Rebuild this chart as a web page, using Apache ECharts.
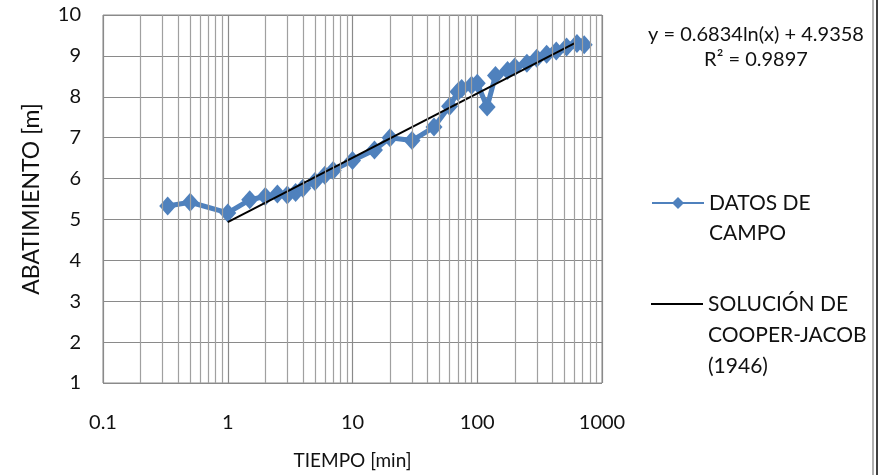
<!DOCTYPE html>
<html>
<head>
<meta charset="utf-8">
<script src="https://cdn.jsdelivr.net/npm/echarts@6/dist/echarts.min.js"></script>
<style>
  html, body { margin: 0; padding: 0; background: #fff; }
  #chart { width: 882px; height: 475px; }
</style>
</head>
<body>
<div id="chart"></div>
<script>
// Field drawdown measurements (time in minutes, drawdown in metres)
const tiempo = [0.33, 0.5, 1, 1.5, 2, 2.5, 3, 3.5, 4, 5, 6, 7, 10, 15, 20, 30, 45, 60, 70, 75, 90, 100, 120, 140, 175, 200, 250, 300, 360, 430, 520, 630, 720];
const abatimiento = [5.33, 5.42, 5.16, 5.48, 5.56, 5.62, 5.6, 5.66, 5.76, 5.93, 6.08, 6.2, 6.44, 6.7, 7.0, 6.93, 7.26, 7.77, 8.12, 8.2, 8.28, 8.33, 7.75, 8.52, 8.64, 8.73, 8.82, 8.94, 9.04, 9.12, 9.22, 9.3, 9.27];

// Cooper-Jacob straight line, y = 0.6834 ln(x) + 4.9358, at its two ends
const cjTiempo = [1, 600];
const cjAbatimiento = [4.9358, 9.3075];

const ecuacion = 'y = 0.6834ln(x) + 4.9358';
const r2 = 'R\u00B2 = 0.9897';

const nombreDatos = 'DATOS DE\nCAMPO';
const nombreCJ = 'SOLUCI\u00D3N DE\nCOOPER-JACOB\n(1946)';

// minor log grid lines 2..9 in each decade
const decadas = [0.1, 1, 10, 100];
const lineasMenores = [];
decadas.forEach(d => { for (let m = 2; m <= 9; m++) lineasMenores.push({ xAxis: +(d * m).toPrecision(3) }); });

const FONT = 'Lato';
const gridColor = '#a0a0a0';
const textColor = '#111';

const chart = echarts.init(document.getElementById('chart'), null, { renderer: 'canvas' });

chart.setOption({
  animation: false,
  backgroundColor: '#fff',
  textStyle: { fontFamily: FONT },
  grid: {
    left: 103, right: 280, top: 15, bottom: 87,
    show: true, borderColor: '#8c8c8c', borderWidth: 1
  },
  xAxis: {
    type: 'log', logBase: 10, min: 0.1, max: 1000,
    name: 'TIEMPO [min]', nameLocation: 'middle', nameGap: 68,
    nameTextStyle: { fontFamily: FONT, fontSize: 19, color: textColor },
    axisLine: { show: false }, axisTick: { show: false },
    axisLabel: { fontFamily: FONT, fontSize: 20, color: textColor, margin: 30,
      formatter: v => String(+v.toPrecision(3)) },
    splitLine: { show: true, lineStyle: { color: '#8a8a8a', width: 1.2 } }
  },
  yAxis: {
    type: 'value', min: 1, max: 10, interval: 1,
    name: 'ABATIMIENTO [m]', nameLocation: 'middle', nameGap: 60,
    nameTextStyle: { fontFamily: FONT, fontSize: 23, color: textColor },
    axisLine: { show: false }, axisTick: { show: false },
    axisLabel: { fontFamily: FONT, fontSize: 20, color: textColor, margin: 22 },
    splitLine: { show: true, lineStyle: { color: '#8a8a8a', width: 1.2 } }
  },
  legend: [
    {
      data: [nombreDatos], left: 651, top: 158, padding: 0,
      itemWidth: 52, itemHeight: 15, itemGap: 0,
      formatter: n => '\n' + n,
      textStyle: { fontFamily: FONT, fontSize: 21, color: textColor, lineHeight: 30 }
    },
    {
      data: [{ name: nombreCJ, icon: 'rect' }], left: 651, top: 226.5, padding: 0,
      itemWidth: 52, itemHeight: 2, itemGap: 0,
      formatter: n => '\n\n' + n,
      textStyle: { fontFamily: FONT, fontSize: 21, color: textColor, lineHeight: 31 }
    }
  ],
  series: [
    {
      name: 'rejilla', type: 'line', data: [], z: 1, silent: true,
      markLine: {
        silent: true, symbol: 'none', label: { show: false },
        lineStyle: { color: gridColor, width: 1.2, type: 'solid' },
        data: lineasMenores
      }
    },
    {
      name: nombreDatos, type: 'line', z: 3,
      data: tiempo.map((t, i) => [t, abatimiento[i]]),
      symbol: 'diamond', symbolSize: [17, 19],
      lineStyle: { color: '#4f81bd', width: 5 },
      itemStyle: { color: '#4f81bd' }
    },
    {
      name: nombreCJ, type: 'line', z: 4,
      data: cjTiempo.map((t, i) => [t, cjAbatimiento[i]]),
      symbol: 'none',
      lineStyle: { color: '#000', width: 2 },
      itemStyle: { color: '#000' }
    }
  ],
  graphic: [
    { type: 'text', x: 756, y: 35, style: { text: ecuacion, font: '20px ' + FONT, fill: textColor, align: 'center', verticalAlign: 'middle' } },
    { type: 'text', x: 756, y: 60, style: { text: r2, font: '20px ' + FONT, fill: textColor, align: 'center', verticalAlign: 'middle' } },
    { type: 'rect', shape: { x: 872, y: 0, width: 2, height: 475 }, style: { fill: '#b0b0b0' } },
    { type: 'rect', shape: { x: 876, y: 0, width: 2, height: 475 }, style: { fill: '#404040' } }
  ]
});
</script>
</body>
</html>
